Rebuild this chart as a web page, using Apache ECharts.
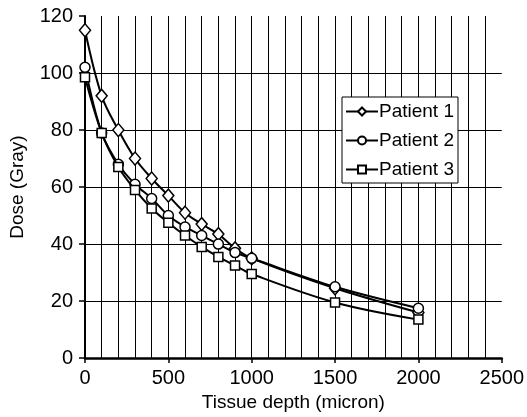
<!DOCTYPE html>
<html>
<head>
<meta charset="utf-8">
<script src="https://cdn.jsdelivr.net/npm/echarts@6/dist/echarts.min.js"></script>
<style>
  html, body { margin: 0; padding: 0; background: #fff; }
  #chart { width: 527px; height: 417px; }
</style>
</head>
<body>
<div id="chart"></div>
<script>
// Tissue depth (micron) at which dose was sampled
const depths = [0, 100, 200, 300, 400, 500, 600, 700, 800, 900, 1000, 1500, 2000];
// Dose (Gray) per patient
const patient1 = [115, 92, 80, 70, 63, 57, 51, 47, 43.5, 38.5, 35, 24.5, 16];
const patient2 = [102, 79, 68, 61, 56, 50, 46, 43, 40, 37, 35, 25, 17.5];
const patient3 = [98.5, 79, 67, 59, 52.5, 47.5, 43, 39, 35.5, 32.5, 29.5, 19.5, 13.5];
const seriesNames = ['Patient 1', 'Patient 2', 'Patient 3'];

const FONT = '"Liberation Sans", Arial, Helvetica, sans-serif';
const pairs = (ys) => depths.map((d, i) => [d, ys[i]]);

const markerStyle = { color: '#fff', borderColor: '#000', borderWidth: 1.5 };

function makeSeries(name, ys, symbol, size, z) {
  return {
    name: name,
    type: 'line',
    data: pairs(ys),
    smooth: 0.35,
    symbol: symbol,
    symbolSize: size,
    showAllSymbol: true,
    z: z,
    lineStyle: { color: '#000', width: 2 },
    itemStyle: markerStyle,
    emphasis: { disabled: true }
  };
}

const chart = echarts.init(document.getElementById('chart'), null, { renderer: 'canvas' });
chart.setOption({
  animation: false,
  backgroundColor: '#fff',
  textStyle: { fontFamily: FONT },
  grid: { left: 83, right: 25, top: 16, bottom: 53, containLabel: false },
  legend: {
    orient: 'vertical',
    left: 342,
    top: 97,
    data: seriesNames,
    backgroundColor: '#fff',
    borderColor: '#000',
    borderWidth: 1,
    padding: [4, 4, 3, 3],
    itemWidth: 32,
    itemHeight: 10,
    itemGap: 8,
    textStyle: { fontFamily: FONT, fontSize: 19, color: '#000', padding: [0, 0, 0, -4], lineHeight: 21 }
  },
  xAxis: {
    type: 'value',
    min: 0,
    max: 2500,
    interval: 500,
    name: 'Tissue depth (micron)',
    nameLocation: 'middle',
    nameGap: 28,
    nameTextStyle: { fontFamily: FONT, fontSize: 19, color: '#000' },
    axisLine: { show: true, onZero: false, lineStyle: { color: '#000', width: 2.5 } },
    axisTick: { show: true, length: 5, lineStyle: { color: '#000', width: 1.5 } },
    axisLabel: {
      fontFamily: FONT, fontSize: 20, color: '#000', margin: 10,
      formatter: (v) => String(v)
    },
    splitLine: { show: true, showMinLine: false, showMaxLine: false, lineStyle: { color: '#000', width: 1 } },
    minorTick: { show: false, splitNumber: 5 },
    minorSplitLine: { show: true, lineStyle: { color: '#000', width: 1 } }
  },
  yAxis: {
    type: 'value',
    min: 0,
    max: 120,
    interval: 20,
    name: 'Dose (Gray)',
    nameLocation: 'middle',
    nameGap: 58,
    nameTextStyle: { fontFamily: FONT, fontSize: 19, color: '#000' },
    axisLine: { show: true, lineStyle: { color: '#000', width: 2 } },
    axisTick: { show: true, inside: false, length: 6, lineStyle: { color: '#000', width: 1.5 } },
    axisLabel: { fontFamily: FONT, fontSize: 20, color: '#000', margin: 12 },
    splitLine: { show: true, showMinLine: false, showMaxLine: false, lineStyle: { color: '#000', width: 1 } }
  },
  series: [
    makeSeries(seriesNames[0], patient1, 'diamond', [11, 13], 3),
    makeSeries(seriesNames[1], patient2, 'circle', 10, 4),
    makeSeries(seriesNames[2], patient3, 'rect', 9, 5)
  ]
});
</script>
</body>
</html>
